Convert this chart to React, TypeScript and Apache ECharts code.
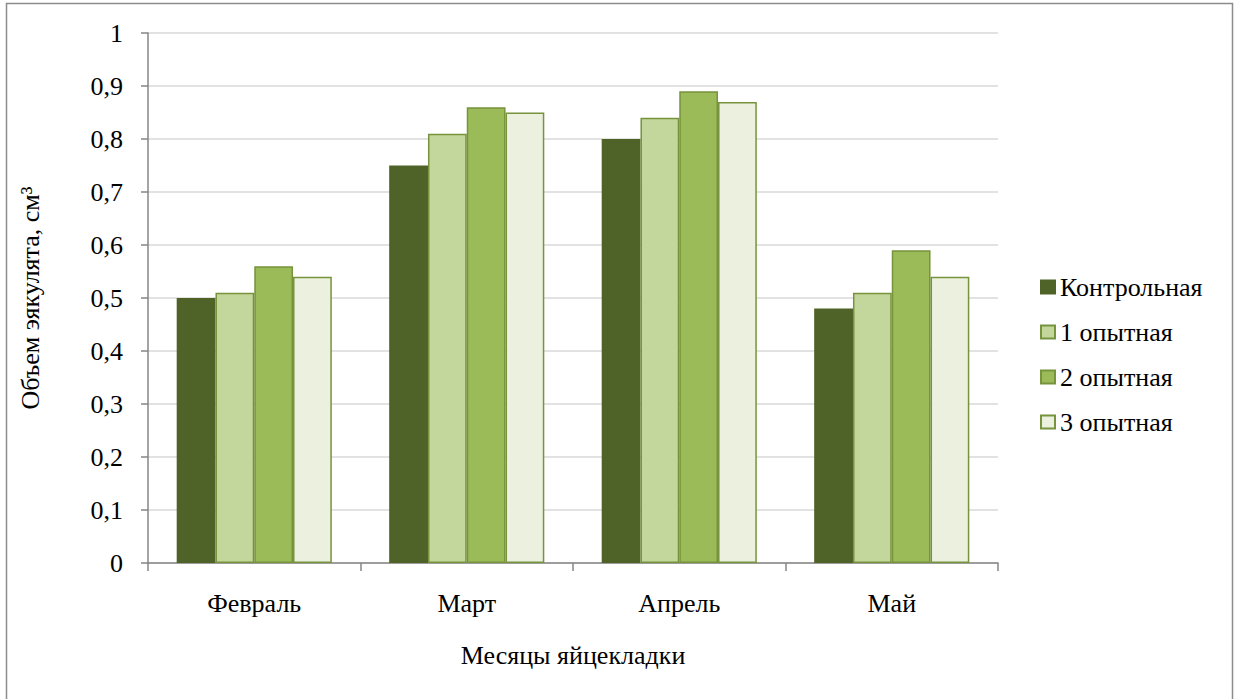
import React, { useEffect, useRef } from "react";
import * as echarts from "echarts";

const categories = ["Февраль", "Март", "Апрель", "Май"];
const seriesNames = ["Контрольная", "1 опытная", "2 опытная", "3 опытная"];
const control = [0.5, 0.75, 0.8, 0.48];
const exp1 = [0.51, 0.81, 0.84, 0.51];
const exp2 = [0.56, 0.86, 0.89, 0.59];
const exp3 = [0.54, 0.85, 0.87, 0.54];
const fills = ["#4F6228", "#C3D69B", "#9BBB59", "#EBF1DE"];
const borders = ["#4F6228", "#77933C", "#77933C", "#77933C"];

const FONT = "'Liberation Serif', 'Times New Roman', serif";
const FS = 26;

export default function App() {
  const ref = useRef<HTMLDivElement>(null);
  useEffect(() => {
    if (!ref.current) return;
    const chart = echarts.init(ref.current, undefined, { renderer: "svg" });
    const data = [control, exp1, exp2, exp3];
    chart.setOption({
      animation: false,
      backgroundColor: "#ffffff",
      textStyle: { fontFamily: FONT },
      graphic: [
        {
          type: "rect",
          shape: { x: 6.5, y: 3.5, width: 1226, height: 700 },
          style: { fill: "none", stroke: "#8C8C8C", lineWidth: 1.5 },
          silent: true,
        },
      ],
      grid: { left: 148, right: 236, top: 33, bottom: 136, containLabel: false },
      legend: {
        orient: "vertical",
        left: 1040,
        top: 274,
        padding: 0,
        itemWidth: 14,
        itemHeight: 13,
        itemGap: 19,
        itemTextGap: 6,
        icon: "rect",
        textStyle: { fontFamily: FONT, fontSize: FS, color: "#000" },
        data: seriesNames,
      },
      xAxis: {
        type: "category",
        data: categories,
        name: "Месяцы яйцекладки",
        nameLocation: "middle",
        nameGap: 79,
        nameTextStyle: { fontFamily: FONT, fontSize: FS, color: "#000", verticalAlign: "top" },
        axisLine: { lineStyle: { color: "#868686", width: 1.5 } },
        axisTick: { show: true, length: 8, lineStyle: { color: "#868686", width: 1.5 } },
        axisLabel: { fontFamily: FONT, fontSize: FS, color: "#000", margin: 27 },
      },
      yAxis: {
        type: "value",
        min: 0,
        max: 1,
        interval: 0.1,
        name: "Объем эякулята, см³",
        nameLocation: "middle",
        nameGap: 105,
        nameTextStyle: { fontFamily: FONT, fontSize: FS, color: "#000" },
        axisLine: { show: true, lineStyle: { color: "#868686", width: 1.5 } },
        axisTick: { show: true, length: 7, lineStyle: { color: "#868686", width: 1.5 } },
        axisLabel: {
          fontFamily: FONT,
          fontSize: FS,
          color: "#000",
          margin: 25,
          formatter: (v: number) => (Math.round(v * 10) / 10).toString().replace(".", ","),
        },
        splitLine: { lineStyle: { color: "#D9D9D9", width: 1.5 } },
      },
      series: seriesNames.map((n, i) => ({
        name: n,
        type: "bar",
        data: data[i],
        barGap: "0%",
        barCategoryGap: "27%",
        itemStyle: { color: fills[i], borderColor: borders[i], borderWidth: 1.5 },
      })),
    });
    return () => chart.dispose();
  }, []);
  return (
    <div
      ref={ref}
      style={{ position: "fixed", left: 0, top: 0, width: 1234, height: 699 }}
    />
  );
}
